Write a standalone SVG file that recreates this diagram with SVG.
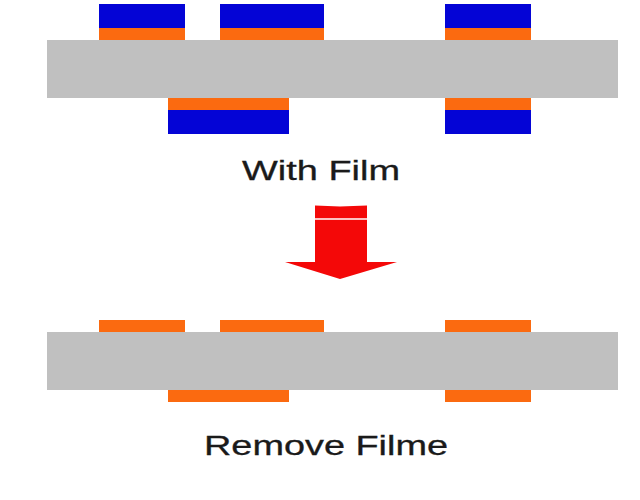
<svg xmlns="http://www.w3.org/2000/svg" width="640" height="500" viewBox="0 0 640 500">
<style>.g{fill:#c0c0c0}.o{fill:#fb6a10}.b{fill:#0404d6}text{font-family:"Liberation Sans",Arial,sans-serif;font-size:27px;fill:#1a1a1a;stroke:#1a1a1a;stroke-width:.3}</style>
<rect width="640" height="500" fill="#fff"/>
<rect class="g" x="47" y="40" width="571" height="58"/>
<rect class="b" x="99" y="4" width="86" height="24"/><rect class="o" x="99" y="28" width="86" height="12"/>
<rect class="b" x="220" y="4" width="104" height="24"/><rect class="o" x="220" y="28" width="104" height="12"/>
<rect class="b" x="445" y="4" width="86" height="24"/><rect class="o" x="445" y="28" width="86" height="12"/>
<rect class="o" x="168" y="98" width="121" height="12"/><rect class="b" x="168" y="110" width="121" height="24"/>
<rect class="o" x="445" y="98" width="86" height="12"/><rect class="b" x="445" y="110" width="86" height="24"/>
<text x="242" y="180" textLength="158" lengthAdjust="spacingAndGlyphs">With Film</text>
<path d="M315 205.500L340 206.500L367 205.500V262H397L340 279L285 262H315Z" fill="#f40808"/>
<path d="M315 219H367" stroke="#fff" stroke-width="1.5"/>
<rect class="g" x="47" y="332" width="571" height="58"/>
<rect class="o" x="99" y="320" width="86" height="12"/>
<rect class="o" x="220" y="320" width="104" height="12"/>
<rect class="o" x="445" y="320" width="86" height="12"/>
<rect class="o" x="168" y="390" width="121" height="12"/>
<rect class="o" x="445" y="390" width="86" height="12"/>
<text x="204" y="455" textLength="244" lengthAdjust="spacingAndGlyphs">Remove Filme</text>
</svg>
